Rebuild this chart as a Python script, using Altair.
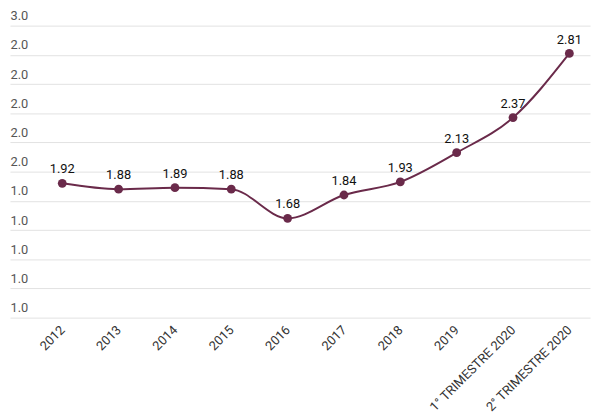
import altair as alt
import pandas as pd

categories = ["2012", "2013", "2014", "2015", "2016", "2017", "2018", "2019",
              "1° TRIMESTRE 2020", "2° TRIMESTRE 2020"]
values = [1.92, 1.88, 1.89, 1.88, 1.68, 1.84, 1.93, 2.13, 2.37, 2.81]
y_ticks = [1.0, 1.2, 1.4, 1.6, 1.8, 2.0, 2.2, 2.4, 2.6, 2.8, 3.0]

df = pd.DataFrame({"i": list(range(len(categories))), "cat": categories, "v": values,
                   "lab": [f"{v:.2f}" for v in values]})

label_arr = "[" + ",".join(f"'{c}'" for c in categories) + "]"
COLOR = "#6a2a4a"

x = alt.X("i:Q", scale=alt.Scale(domain=[-0.928, 9.367], nice=False, zero=False),
          axis=alt.Axis(values=list(range(len(categories))), labelExpr=f"{label_arr}[datum.value]",
                        labelAngle=315, labelAlign="right", labelBaseline="middle",
                        labelPadding=10, ticks=False, tickSize=0, domain=False, grid=False,
                        labelFont="Roboto", labelFontSize=13, labelColor="#333",
                        labelOverlap=False, labelBound=False, title=None))
y = alt.Y("v:Q", scale=alt.Scale(domain=[1.0, 3.0], nice=False, zero=False),
          axis=alt.Axis(values=y_ticks, labelExpr="format(floor(datum.value + 1e-9), '.1f')",
                        labelAlign="left", labelBaseline="bottom", labelPadding=0, labelOffset=-3,
                        ticks=False, tickSize=0, domain=False, grid=True, gridColor="#e2e2e2",
                        gridWidth=1, labelFont="Roboto", labelFontSize=13, labelColor="#555",
                        title=None))

base = alt.Chart(df).encode(x=x, y=y)
line = base.mark_line(color=COLOR, strokeWidth=2, interpolate="monotone")
pts = base.mark_circle(color=COLOR, size=80, opacity=1)
txt = base.mark_text(dy=-14, fontSize=13, font="Roboto", color="#111").encode(text="lab:N")

chart = (line + pts + txt).properties(
    width=588, height=296,
    autosize=alt.AutoSizeParams(type="none"),
    padding={"left": 2, "top": 15, "right": 2, "bottom": 110},
).configure_view(stroke=None)

chart.save("out.html", embed_options={"renderer": "svg", "actions": False})
